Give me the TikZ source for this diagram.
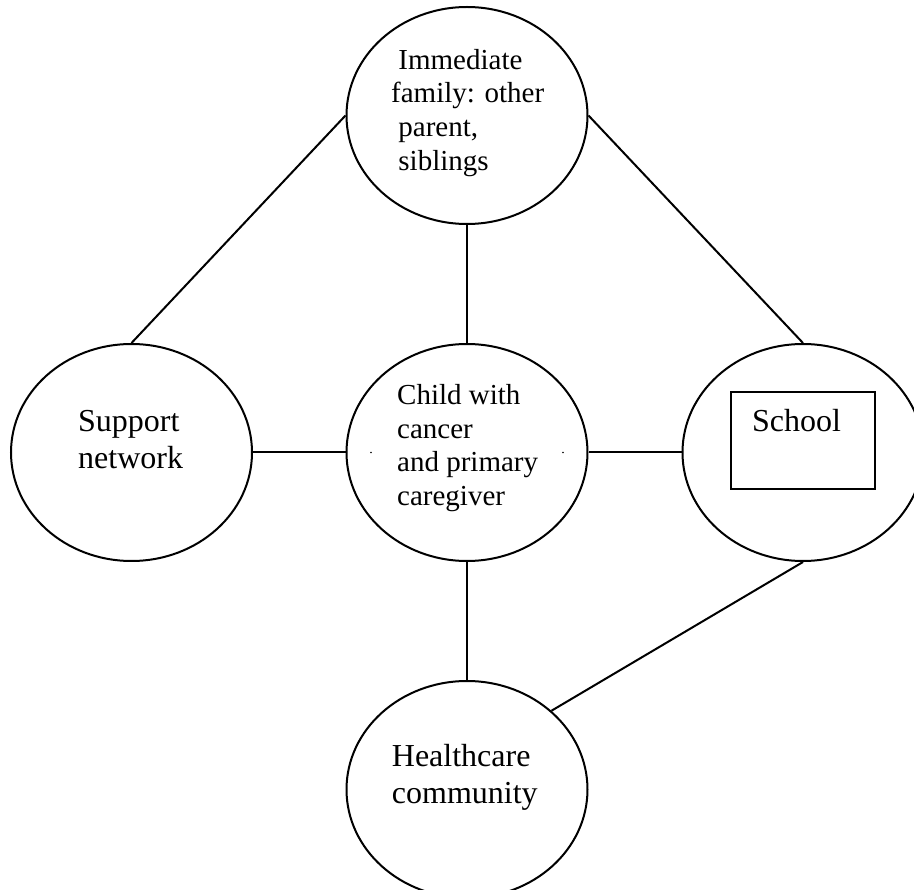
\documentclass[tikz,border=0pt]{standalone}
\usepackage{fontspec}
\setmainfont{Liberation Serif}
\usetikzlibrary{shapes.geometric}

\tikzset{
  circlenode/.style={draw=black, line width=2pt, ellipse, inner sep=0pt,
    minimum width=241pt, minimum height=217pt},
  link/.style={draw=black, line width=2pt},
  % multi-line labels are placed by the baseline of their last line
  smalltext/.style={anchor=base west, align=left, inner sep=0pt,
    font=\fontsize{29}{33.6}\selectfont},
  bigtext/.style={anchor=base west, align=left, inner sep=0pt,
    font=\fontsize{32}{36.6}\selectfont}
}

\begin{document}
\begin{tikzpicture}[x=1pt, y=-1pt]
  % canvas
  \fill[white] (0,0) rectangle (914,890);
  \useasboundingbox (0,0) rectangle (914,890);

  % the five circles
  \node[circlenode] (family)  at (467,115.5) {};
  \node[circlenode] (child)   at (467,452.5) {};
  \node[circlenode] (support) at (131.5,452.5) {};
  \node[circlenode] (school)  at (803,452.5) {};
  \node[circlenode] (health)  at (467,789.5) {};

  % box inside the school circle
  \node[draw=black, line width=2pt, minimum width=144pt, minimum height=97pt,
        inner sep=0pt] (schoolbox) at (803,440.5) {};

  % labels
  \node[smalltext] (familytext) at (391,170.1)
    {\hspace*{7.25pt}Immediate\\family: other\\\hspace*{7.25pt}parent,\\\hspace*{7.25pt}siblings};
  \node[smalltext] (childtext) at (397,505.4)
    {Child with\\cancer\\and primary\\caregiver};
  \node[bigtext] (supporttext) at (78,468.3) {Support\\network};
  \node[bigtext] (schooltext) at (752,432) {School};
  \node[bigtext] (healthtext) at (391.7,803) {Healthcare\\community};

  % two small marks inside the central circle
  \fill[black] (371,452.5) circle (0.8pt);
  \fill[black] (563,452.5) circle (0.8pt);

  % connectors
  \draw[link] (family.south) -- (child.north);
  \draw[link] (child.south) -- (health.north);
  \draw[link] (support.east) -- (child.west);
  \draw[link] (child.east) -- (school.west);
  \draw[link] (family.west) -- (support.north);
  \draw[link] (family.east) -- (school.north);
  \draw[link] (school.south) -- (health.43);
\end{tikzpicture}
\end{document}
